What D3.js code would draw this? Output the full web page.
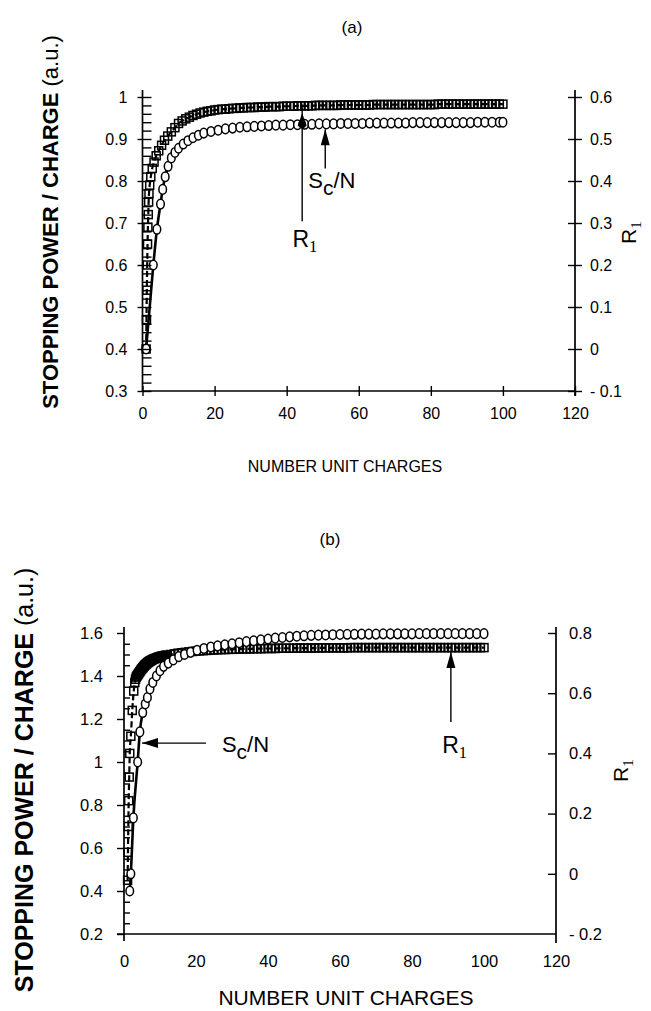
<!DOCTYPE html>
<html><head><meta charset="utf-8">
<script src="https://cdn.jsdelivr.net/npm/d3@7"></script>
<style>
body{margin:0;background:#fff;}
svg{display:block;}
text{font-family:"Liberation Sans", Arial, Helvetica, sans-serif; fill:#000;}
</style>
</head><body>
<svg id="c" width="651" height="1011"></svg>
<script>
// ---------- DATA ----------
// Panel (a): stopping power / charge vs number of unit charges
const aSquares = [[1,0.40],[1.1,0.47],[1.2,0.54],[1.3,0.60],[1.4,0.65],[1.5,0.69],[1.6,0.72],[1.7,0.75],[1.8,0.77],[2,0.79],[2.3,0.81],[2.7,0.83],[3.2,0.845],[3.8,0.86],[4.5,0.872],[5.3,0.885],[6.1,0.897],[7,0.907],[8,0.917],[9,0.927],[10,0.937],[11,0.943],[12,0.948],[13,0.952],[14,0.956],[15,0.959],[16,0.962],[17,0.964],[18,0.966],[19,0.967],
[20,0.969],[21,0.970],[22,0.971],[23,0.971],[24,0.972],[25,0.973],[26,0.973],[27,0.974],[28,0.974],[29,0.975],
[30,0.975],[31,0.975],[32,0.976],[33,0.976],[34,0.976],[35,0.977],[36,0.977],[37,0.977],[38,0.977],[39,0.978],
[40,0.978],[41,0.978],[42,0.978],[43,0.979],[44,0.979],[45,0.979],[46,0.979],[47,0.979],[48,0.980],[49,0.980],
[50,0.980],[51,0.980],[52,0.980],[53,0.980],[54,0.980],[55,0.981],[56,0.981],[57,0.981],[58,0.981],[59,0.981],
[60,0.981],[61,0.981],[62,0.981],[63,0.981],[64,0.982],[65,0.982],[66,0.982],[67,0.982],[68,0.982],[69,0.982],
[70,0.982],[71,0.982],[72,0.982],[73,0.982],[74,0.982],[75,0.982],[76,0.982],[77,0.982],[78,0.982],[79,0.982],
[80,0.982],[81,0.982],[82,0.983],[83,0.983],[84,0.983],[85,0.983],[86,0.983],[87,0.983],[88,0.983],[89,0.983],
[90,0.983],[91,0.983],[92,0.983],[93,0.983],[94,0.983],[95,0.983],[96,0.983],[97,0.983],[98,0.983],[99,0.983],[100,0.983]];
const aCircles = [[1,0.40],[3,0.60],[4,0.685],[5,0.745],[5.6,0.78],[6.3,0.81],[7.1,0.835],[8,0.855],[9,0.868],[10,0.878],[11.3,0.888],[12.6,0.896],[14,0.903],[15.5,0.909],[17,0.914],[19,0.918],
[21,0.921],[23,0.924],[25,0.926],[27,0.928],[29,0.929],[31,0.930],[33,0.931],[35,0.932],[37,0.933],[39,0.933],
[41,0.934],[43,0.934],[45,0.935],[47,0.935],[49,0.936],[51,0.936],[53,0.936],[55,0.937],[57,0.937],[59,0.937],
[61,0.937],[63,0.938],[65,0.938],[67,0.938],[69,0.938],[71,0.938],[73,0.938],[75,0.939],[77,0.939],[79,0.939],
[81,0.939],[83,0.939],[85,0.939],[87,0.939],[89,0.939],[91,0.939],[93,0.940],[95,0.940],[97,0.940],[99,0.940],[100,0.940]];
// Panel (b)
const bSquares = [[1.0,0.45],[1.1,0.58],[1.2,0.70],[1.3,0.82],[1.45,0.93],[1.6,1.04],[1.9,1.12],[2.3,1.24],[2.7,1.33],[3.0,1.37],[3.2,1.385],[3.4,1.395],[3.6,1.40],[3.8,1.405],
[4,1.41],[4.2,1.415],[4.4,1.42],[4.6,1.425],[4.8,1.43],[5,1.434],[5.2,1.438],[5.4,1.442],[5.6,1.446],[5.8,1.45],[6,1.453],[6.2,1.456],[6.4,1.459],[6.6,1.462],[6.8,1.465],[7,1.467],[7.2,1.469],[7.4,1.471],[7.6,1.473],[7.8,1.475],[8,1.477],[8.3,1.479],[8.6,1.481],[8.9,1.483],[9.2,1.485],[9.5,1.487],[9.8,1.489],[10.1,1.49],[10.4,1.492],[10.7,1.493],[11,1.494],[11.3,1.495],[11.6,1.496],[12,1.497],
[13,1.500],[14,1.503],[15,1.506],[16,1.508],[17,1.510],[18,1.512],[19,1.514],[20,1.516],[21,1.517],[22,1.518],[23,1.519],[24,1.520],[25,1.521],[26,1.522],[27,1.523],[28,1.523],[29,1.524],
[30,1.524],[31,1.525],[32,1.525],[33,1.526],[34,1.526],[35,1.526],[36,1.527],[37,1.527],[38,1.527],[39,1.528],
[40,1.528],[41,1.528],[42,1.528],[43,1.529],[44,1.529],[45,1.529],[46,1.529],[47,1.529],[48,1.530],[49,1.530],
[50,1.530],[51,1.530],[52,1.530],[53,1.530],[54,1.531],[55,1.531],[56,1.531],[57,1.531],[58,1.531],[59,1.531],
[60,1.531],[61,1.531],[62,1.531],[63,1.532],[64,1.532],[65,1.532],[66,1.532],[67,1.532],[68,1.532],[69,1.532],
[70,1.532],[71,1.532],[72,1.532],[73,1.532],[74,1.532],[75,1.532],[76,1.532],[77,1.532],[78,1.532],[79,1.532],
[80,1.532],[81,1.532],[82,1.532],[83,1.532],[84,1.532],[85,1.532],[86,1.532],[87,1.532],[88,1.532],[89,1.532],
[90,1.532],[91,1.532],[92,1.532],[93,1.532],[94,1.532],[95,1.532],[96,1.532],[97,1.532],[98,1.532],[99,1.532],[100,1.532]];
const bCircles = [[1.6,0.40],[1.9,0.48],[2.6,0.74],[3.8,1.00],[4.4,1.14],[5.2,1.23],[5.9,1.27],[6.5,1.30],[7.2,1.34],[8,1.37],[9,1.40],[10,1.425],[11,1.445],[12.3,1.46],[13.7,1.475],[15.2,1.49],[16.8,1.50],[18.5,1.51],
[20.3,1.52],[22.2,1.528],[24.1,1.535],[26,1.54],[28,1.545],[30,1.55],[32,1.555],[34,1.56],[36,1.564],[38,1.568],
[40,1.572],[42,1.576],[44,1.579],[46,1.582],[48,1.585],[50,1.587],[52,1.589],[54,1.590],[56,1.591],[58,1.592],
[60,1.593],[62,1.594],[64,1.594],[66,1.595],[68,1.595],[70,1.595],[72,1.596],[74,1.596],[76,1.596],[78,1.596],
[80,1.596],[82,1.597],[84,1.597],[86,1.597],[88,1.597],[90,1.597],[92,1.597],[94,1.597],[96,1.597],[98,1.597],[100,1.597]];

// Tick labels
const xTicks = [0,20,40,60,80,100,120];
const aLeftTicks = [0.3,0.4,0.5,0.6,0.7,0.8,0.9,1.0];
const aRightTicks = [-0.1,0,0.1,0.2,0.3,0.4,0.5,0.6];
const bLeftTicks = [0.2,0.4,0.6,0.8,1.0,1.2,1.4,1.6];
const bRightTicks = [-0.2,0,0.2,0.4,0.6,0.8];

// ---------- DRAW ----------
const svg = d3.select("#c");
const FONT = '"Liberation Sans", Arial, Helvetica, sans-serif';
const fmt = d => d < 0 ? "- " + d3.format("~g")(-d) : d3.format("~g")(d);

function styleAxis(g, size){
  g.attr("font-family", FONT).attr("font-size", size);
  g.select(".domain").remove();
  g.selectAll(".tick line").attr("stroke","#000").attr("stroke-width",1.4);
  g.selectAll(".tick text").attr("fill","#000");
}
function vline(g,x,y1,y2){g.append("line").attr("x1",x).attr("x2",x).attr("y1",y1).attr("y2",y2).attr("stroke","#000").attr("stroke-width",1.7);}
function hline(g,y,x1,x2){g.append("line").attr("x1",x1).attr("x2",x2).attr("y1",y).attr("y2",y).attr("stroke","#000").attr("stroke-width",1.7);}

function series(g, x, y, sq, ci){
  const line = d3.line().x(d=>x(d[0])).y(d=>y(d[1])).curve(d3.curveMonotoneX);
  g.append("path").attr("d", line(sq)).attr("fill","none").attr("stroke","#000").attr("stroke-width",2.2).attr("stroke-dasharray","6,3");
  g.append("g").selectAll("rect").data(sq).join("rect")
    .attr("x", d=>x(d[0])-4).attr("y", d=>y(d[1])-4).attr("width",8).attr("height",8)
    .attr("fill","none").attr("stroke","#000").attr("stroke-width",1.5);
  g.append("path").attr("d", line(ci)).attr("fill","none").attr("stroke","#000").attr("stroke-width",2.6);
  g.append("g").selectAll("ellipse").data(ci).join("ellipse")
    .attr("cx", d=>x(d[0])).attr("cy", d=>y(d[1])).attr("rx",3.8).attr("ry",4.8)
    .attr("fill","#fff").attr("stroke","#000").attr("stroke-width",1.5);
}

function arrowHead(g, tipX, tipY, dir, len, hw){
  let pts;
  if(dir==="up") pts=[[tipX,tipY],[tipX-hw,tipY+len],[tipX+hw,tipY+len]];
  else pts=[[tipX,tipY],[tipX+len,tipY-hw],[tipX+len,tipY+hw]];
  g.append("polygon").attr("points", pts.map(p=>p.join(",")).join(" ")).attr("fill","#000");
}
function labelSc(g, x, y, size){
  const t = g.append("text").attr("x",x).attr("y",y).attr("font-size",size).attr("font-family",FONT);
  t.append("tspan").text("S");
  t.append("tspan").attr("dy",7).attr("font-size",size*0.95).text("c");
  t.append("tspan").attr("dy",-7).text("/N");
}
function labelR1(g, x, y, size, transform){
  const t = g.append("text").attr("x",x).attr("y",y).attr("font-size",size).attr("font-family",FONT);
  if(transform) t.attr("transform",transform);
  t.append("tspan").text("R");
  t.append("tspan").attr("dy",5).attr("font-size",size*0.72).attr("font-family",'"Liberation Serif", "Times New Roman", serif').text("1");
}
function yTitle(g, x, y, size){
  const t = g.append("text").attr("transform",`translate(${x},${y}) rotate(-90)`)
    .attr("text-anchor","middle").attr("font-size",size).attr("font-family",FONT);
  t.append("tspan").attr("font-weight","bold").text("STOPPING POWER / CHARGE");
  t.append("tspan").text(" (a.u.)");
}

// ===== Panel (a) =====
{
  const g = svg.append("g");
  const x = d3.scaleLinear().domain([0,120]).range([142.5,575]);
  const y = d3.scaleLinear().domain([0.3,1.0]).range([391,97]);
  const yR = d3.scaleLinear().domain([-0.1,0.6]).range([391,97]);

  g.append("text").attr("x",352).attr("y",33).attr("text-anchor","middle").attr("font-size",17).text("(a)");

  series(g, x, y, aSquares, aCircles);

  vline(g, x(0), y(0.3), y(1.0)-7);
  hline(g, y(0.3), x(0), x(120));
  vline(g, x(120), y(0.3)+5, y(1.0)-7);

  const minor = d3.range(30,101,2).map(v=>v/100).filter(v=>Math.abs(v*10-Math.round(v*10))>1e-6);
  g.append("g").attr("transform",`translate(${x(0)},0)`)
    .call(d3.axisLeft(y).tickValues(minor).tickSize(-9).tickFormat(""))
    .call(a=>styleAxis(a,16));
  g.append("g").attr("transform",`translate(${x(0)},0)`)
    .call(d3.axisLeft(y).tickValues(aLeftTicks).tickSize(5).tickPadding(10).tickFormat(fmt))
    .call(a=>{styleAxis(a,16); a.selectAll(".tick line").attr("x1",9);});
  g.append("g").attr("transform",`translate(${x(120)},0)`)
    .call(d3.axisRight(yR).tickValues(aRightTicks).tickSize(7).tickPadding(8).tickFormat(fmt))
    .call(a=>{styleAxis(a,16); a.selectAll(".tick line").attr("x1",-7);});
  g.append("g").attr("transform",`translate(0,${y(0.3)})`)
    .call(d3.axisBottom(x).tickValues(xTicks).tickSize(5).tickFormat(d3.format("d")))
    .call(a=>{styleAxis(a,16); a.selectAll(".tick line").attr("y1",-5); a.selectAll(".tick text").attr("y",28).attr("dy",0);});

  // annotations
  const rx = x(44.3);
  g.append("line").attr("x1",rx).attr("x2",rx).attr("y1",y(0.704)).attr("y2",y(0.982)).attr("stroke","#000").attr("stroke-width",1.4);
  arrowHead(g, rx, y(0.962), "up", 13, 4.5);
  g.append("circle").attr("cx",rx).attr("cy",y(0.935)).attr("r",4).attr("fill","#000");
  labelR1(g, x(41.6), y(0.643), 23);

  const sx = x(50.7);
  g.append("line").attr("x1",sx).attr("x2",sx).attr("y1",y(0.83)).attr("y2",y(0.923)).attr("stroke","#000").attr("stroke-width",1.4);
  arrowHead(g, sx, y(0.923), "up", 16, 4.5);
  labelSc(g, x(46), y(0.783), 22);

  g.append("text").attr("x",345).attr("y",472).attr("text-anchor","middle").attr("font-size",16).text("NUMBER UNIT CHARGES");
  yTitle(g, 58, 222, 22);
  labelR1(g, 0, 0, 21, "translate(636,244) rotate(-90)");
}

// ===== Panel (b) =====
{
  const g = svg.append("g");
  const x = d3.scaleLinear().domain([0,120]).range([124,556]);
  const y = d3.scaleLinear().domain([0.2,1.6]).range([934,633]);
  const yR = d3.scaleLinear().domain([-0.2,0.8]).range([934,633]);

  g.append("text").attr("x",330).attr("y",545).attr("text-anchor","middle").attr("font-size",17).text("(b)");

  series(g, x, y, bSquares, bCircles);

  vline(g, x(0), y(0.2)+7, y(1.6)-6);
  hline(g, y(0.2), x(0)-7, x(120));
  vline(g, x(120), y(0.2)+9, y(1.6)-6);

  const minor = d3.range(20,161,5).map(v=>v/100).filter(v=>Math.abs(v*5-Math.round(v*5))>1e-6);
  g.append("g").attr("transform",`translate(${x(0)},0)`)
    .call(d3.axisLeft(y).tickValues(minor).tickSize(-6).tickFormat(""))
    .call(a=>styleAxis(a,16.5));
  g.append("g").attr("transform",`translate(${x(0)},0)`)
    .call(d3.axisLeft(y).tickValues(bLeftTicks).tickSize(7).tickPadding(14).tickFormat(fmt))
    .call(a=>styleAxis(a,16.5));
  g.append("g").attr("transform",`translate(${x(120)},0)`)
    .call(d3.axisRight(yR).tickValues(bRightTicks).tickSize(0).tickPadding(13).tickFormat(fmt))
    .call(a=>{styleAxis(a,16.5);});
  g.append("g").attr("transform",`translate(${x(120)},0)`)
    .call(d3.axisLeft(yR).tickValues(bRightTicks.filter(v=>v>-0.2)).tickSize(8).tickFormat(""))
    .call(a=>styleAxis(a,16.5));
  g.append("g").attr("transform",`translate(0,${y(0.2)})`)
    .call(d3.axisBottom(x).tickValues(xTicks).tickSize(0).tickFormat(d3.format("d")))
    .call(a=>{styleAxis(a,16.5); a.selectAll(".tick text").attr("y",33).attr("dy",0);});

  // annotations
  const sy = y(1.088);
  g.append("line").attr("x1",x(22.8)).attr("x2",x(5.0)).attr("y1",sy).attr("y2",sy).attr("stroke","#000").attr("stroke-width",1.4);
  arrowHead(g, x(5.0), sy, "left", 16, 5);
  labelSc(g, x(27.2), y(1.047), 22);

  const rx = x(90.8);
  g.append("line").attr("x1",rx).attr("x2",rx).attr("y1",y(1.186)).attr("y2",y(1.512)).attr("stroke","#000").attr("stroke-width",1.4);
  arrowHead(g, rx, y(1.512), "up", 16, 4.5);
  labelR1(g, x(88.4), y(1.042), 23);

  g.append("text").attr("x",346).attr("y",1005).attr("text-anchor","middle").attr("font-size",21).text("NUMBER UNIT CHARGES");
  yTitle(g, 33, 780, 25);
  labelR1(g, 0, 0, 21, "translate(628,782) rotate(-90)");
}
</script>
</body></html>
